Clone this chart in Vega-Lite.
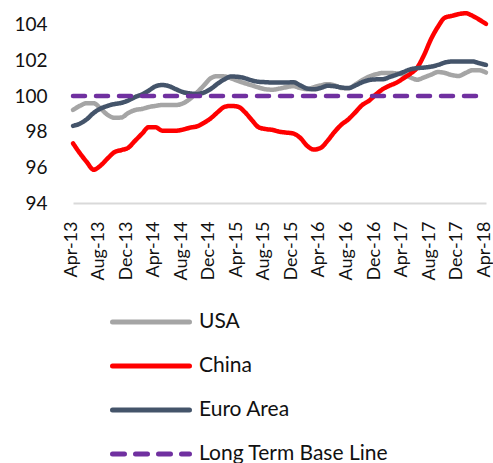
{
  "$schema": "https://vega.github.io/schema/vega-lite/v6.json",
  "width": 413,
  "height": 196,
  "autosize": "none",
  "padding": {"left": 73, "top": 7, "right": 7, "bottom": 260},
  "background": "white",
  "config": {
    "view": {"stroke": null},
    "font": "Lato",
    "axis": {"labelFont": "Lato", "labelColor": "#111111", "grid": false, "ticks": false, "tickSize": 0}
  },
  "data": {
    "values": [
      {"d": "2013-04-01T00:00:00", "USA": 99.22, "China": 97.35, "Euro Area": 98.33, "Long Term Base Line": 100},
      {"d": "2013-05-01T00:00:00", "USA": 99.45, "China": 96.8, "Euro Area": 98.45, "Long Term Base Line": 100},
      {"d": "2013-06-01T00:00:00", "USA": 99.6, "China": 96.3, "Euro Area": 98.7, "Long Term Base Line": 100},
      {"d": "2013-07-01T00:00:00", "USA": 99.6, "China": 95.87, "Euro Area": 99.05, "Long Term Base Line": 100},
      {"d": "2013-08-01T00:00:00", "USA": 99.3, "China": 96.1, "Euro Area": 99.3, "Long Term Base Line": 100},
      {"d": "2013-09-01T00:00:00", "USA": 98.95, "China": 96.5, "Euro Area": 99.45, "Long Term Base Line": 100},
      {"d": "2013-10-01T00:00:00", "USA": 98.78, "China": 96.85, "Euro Area": 99.55, "Long Term Base Line": 100},
      {"d": "2013-11-01T00:00:00", "USA": 98.8, "China": 96.97, "Euro Area": 99.62, "Long Term Base Line": 100},
      {"d": "2013-12-01T00:00:00", "USA": 99.05, "China": 97.1, "Euro Area": 99.75, "Long Term Base Line": 100},
      {"d": "2014-01-01T00:00:00", "USA": 99.22, "China": 97.5, "Euro Area": 99.95, "Long Term Base Line": 100},
      {"d": "2014-02-01T00:00:00", "USA": 99.28, "China": 97.9, "Euro Area": 100.1, "Long Term Base Line": 100},
      {"d": "2014-03-01T00:00:00", "USA": 99.38, "China": 98.25, "Euro Area": 100.3, "Long Term Base Line": 100},
      {"d": "2014-04-01T00:00:00", "USA": 99.45, "China": 98.25, "Euro Area": 100.55, "Long Term Base Line": 100},
      {"d": "2014-05-01T00:00:00", "USA": 99.5, "China": 98.06, "Euro Area": 100.62, "Long Term Base Line": 100},
      {"d": "2014-06-01T00:00:00", "USA": 99.5, "China": 98.06, "Euro Area": 100.55, "Long Term Base Line": 100},
      {"d": "2014-07-01T00:00:00", "USA": 99.5, "China": 98.06, "Euro Area": 100.38, "Long Term Base Line": 100},
      {"d": "2014-08-01T00:00:00", "USA": 99.6, "China": 98.12, "Euro Area": 100.22, "Long Term Base Line": 100},
      {"d": "2014-09-01T00:00:00", "USA": 99.85, "China": 98.23, "Euro Area": 100.15, "Long Term Base Line": 100},
      {"d": "2014-10-01T00:00:00", "USA": 100.2, "China": 98.3, "Euro Area": 100.12, "Long Term Base Line": 100},
      {"d": "2014-11-01T00:00:00", "USA": 100.6, "China": 98.5, "Euro Area": 100.2, "Long Term Base Line": 100},
      {"d": "2014-12-01T00:00:00", "USA": 101.0, "China": 98.75, "Euro Area": 100.4, "Long Term Base Line": 100},
      {"d": "2015-01-01T00:00:00", "USA": 101.12, "China": 99.1, "Euro Area": 100.7, "Long Term Base Line": 100},
      {"d": "2015-02-01T00:00:00", "USA": 101.1, "China": 99.4, "Euro Area": 100.95, "Long Term Base Line": 100},
      {"d": "2015-03-01T00:00:00", "USA": 101.0, "China": 99.45, "Euro Area": 101.1, "Long Term Base Line": 100},
      {"d": "2015-04-01T00:00:00", "USA": 100.85, "China": 99.4, "Euro Area": 101.08, "Long Term Base Line": 100},
      {"d": "2015-05-01T00:00:00", "USA": 100.72, "China": 99.1, "Euro Area": 101.0, "Long Term Base Line": 100},
      {"d": "2015-06-01T00:00:00", "USA": 100.6, "China": 98.65, "Euro Area": 100.88, "Long Term Base Line": 100},
      {"d": "2015-07-01T00:00:00", "USA": 100.48, "China": 98.25, "Euro Area": 100.8, "Long Term Base Line": 100},
      {"d": "2015-08-01T00:00:00", "USA": 100.38, "China": 98.15, "Euro Area": 100.78, "Long Term Base Line": 100},
      {"d": "2015-09-01T00:00:00", "USA": 100.36, "China": 98.1, "Euro Area": 100.76, "Long Term Base Line": 100},
      {"d": "2015-10-01T00:00:00", "USA": 100.42, "China": 98.0, "Euro Area": 100.76, "Long Term Base Line": 100},
      {"d": "2015-11-01T00:00:00", "USA": 100.5, "China": 97.95, "Euro Area": 100.76, "Long Term Base Line": 100},
      {"d": "2015-12-01T00:00:00", "USA": 100.56, "China": 97.9, "Euro Area": 100.78, "Long Term Base Line": 100},
      {"d": "2016-01-01T00:00:00", "USA": 100.45, "China": 97.65, "Euro Area": 100.6, "Long Term Base Line": 100},
      {"d": "2016-02-01T00:00:00", "USA": 100.39, "China": 97.2, "Euro Area": 100.42, "Long Term Base Line": 100},
      {"d": "2016-03-01T00:00:00", "USA": 100.5, "China": 97.0, "Euro Area": 100.38, "Long Term Base Line": 100},
      {"d": "2016-04-01T00:00:00", "USA": 100.6, "China": 97.1, "Euro Area": 100.46, "Long Term Base Line": 100},
      {"d": "2016-05-01T00:00:00", "USA": 100.67, "China": 97.5, "Euro Area": 100.58, "Long Term Base Line": 100},
      {"d": "2016-06-01T00:00:00", "USA": 100.6, "China": 98.0, "Euro Area": 100.55, "Long Term Base Line": 100},
      {"d": "2016-07-01T00:00:00", "USA": 100.46, "China": 98.4, "Euro Area": 100.48, "Long Term Base Line": 100},
      {"d": "2016-08-01T00:00:00", "USA": 100.44, "China": 98.7, "Euro Area": 100.45, "Long Term Base Line": 100},
      {"d": "2016-09-01T00:00:00", "USA": 100.65, "China": 99.1, "Euro Area": 100.6, "Long Term Base Line": 100},
      {"d": "2016-10-01T00:00:00", "USA": 100.9, "China": 99.5, "Euro Area": 100.78, "Long Term Base Line": 100},
      {"d": "2016-11-01T00:00:00", "USA": 101.1, "China": 99.75, "Euro Area": 100.9, "Long Term Base Line": 100},
      {"d": "2016-12-01T00:00:00", "USA": 101.22, "China": 100.1, "Euro Area": 100.94, "Long Term Base Line": 100},
      {"d": "2017-01-01T00:00:00", "USA": 101.3, "China": 100.4, "Euro Area": 100.95, "Long Term Base Line": 100},
      {"d": "2017-02-01T00:00:00", "USA": 101.3, "China": 100.6, "Euro Area": 101.08, "Long Term Base Line": 100},
      {"d": "2017-03-01T00:00:00", "USA": 101.27, "China": 100.75, "Euro Area": 101.2, "Long Term Base Line": 100},
      {"d": "2017-04-01T00:00:00", "USA": 101.2, "China": 101.0, "Euro Area": 101.35, "Long Term Base Line": 100},
      {"d": "2017-05-01T00:00:00", "USA": 101.05, "China": 101.25, "Euro Area": 101.5, "Long Term Base Line": 100},
      {"d": "2017-06-01T00:00:00", "USA": 100.92, "China": 101.6, "Euro Area": 101.57, "Long Term Base Line": 100},
      {"d": "2017-07-01T00:00:00", "USA": 101.05, "China": 102.3, "Euro Area": 101.6, "Long Term Base Line": 100},
      {"d": "2017-08-01T00:00:00", "USA": 101.2, "China": 103.2, "Euro Area": 101.65, "Long Term Base Line": 100},
      {"d": "2017-09-01T00:00:00", "USA": 101.35, "China": 103.9, "Euro Area": 101.75, "Long Term Base Line": 100},
      {"d": "2017-10-01T00:00:00", "USA": 101.3, "China": 104.4, "Euro Area": 101.88, "Long Term Base Line": 100},
      {"d": "2017-11-01T00:00:00", "USA": 101.18, "China": 104.5, "Euro Area": 101.94, "Long Term Base Line": 100},
      {"d": "2017-12-01T00:00:00", "USA": 101.13, "China": 104.6, "Euro Area": 101.94, "Long Term Base Line": 100},
      {"d": "2018-01-01T00:00:00", "USA": 101.3, "China": 104.65, "Euro Area": 101.94, "Long Term Base Line": 100},
      {"d": "2018-02-01T00:00:00", "USA": 101.45, "China": 104.5, "Euro Area": 101.94, "Long Term Base Line": 100},
      {"d": "2018-03-01T00:00:00", "USA": 101.45, "China": 104.3, "Euro Area": 101.85, "Long Term Base Line": 100},
      {"d": "2018-04-01T00:00:00", "USA": 101.32, "China": 104.05, "Euro Area": 101.75, "Long Term Base Line": 100}
    ]
  },
  "transform": [
    {"fold": ["USA", "China", "Euro Area", "Long Term Base Line"], "as": ["series", "value"]}
  ],
  "mark": {"type": "line", "strokeWidth": 4.5, "interpolate": "monotone", "strokeCap": "round", "strokeJoin": "round"},
  "encoding": {
    "x": {
      "field": "d",
      "type": "temporal",
      "scale": {"nice": false},
      "axis": {
        "title": null,
        "format": "%b-%y",
        "values": [
          {"year": 2013, "month": 4, "date": 1}, {"year": 2013, "month": 8, "date": 1}, {"year": 2013, "month": 12, "date": 1},
          {"year": 2014, "month": 4, "date": 1}, {"year": 2014, "month": 8, "date": 1}, {"year": 2014, "month": 12, "date": 1},
          {"year": 2015, "month": 4, "date": 1}, {"year": 2015, "month": 8, "date": 1}, {"year": 2015, "month": 12, "date": 1},
          {"year": 2016, "month": 4, "date": 1}, {"year": 2016, "month": 8, "date": 1}, {"year": 2016, "month": 12, "date": 1},
          {"year": 2017, "month": 4, "date": 1}, {"year": 2017, "month": 8, "date": 1}, {"year": 2017, "month": 12, "date": 1},
          {"year": 2018, "month": 4, "date": 1}
        ],
        "labelAngle": -90,
        "labelAlign": "right",
        "labelBaseline": "middle",
        "labelFontSize": 18,
        "labelPadding": 18,
        "labelOffset": -2,
        "labelOverlap": false,
        "labelFlush": false,
        "domainColor": "#D9D9D9",
        "domainWidth": 2
      }
    },
    "y": {
      "field": "value",
      "type": "quantitative",
      "scale": {"domain": [94, 105], "nice": false, "zero": false},
      "axis": {
        "title": null,
        "values": [94, 96, 98, 100, 102, 104],
        "domain": false,
        "labelFontSize": 19,
        "labelPadding": 26
      }
    },
    "color": {
      "field": "series",
      "type": "nominal",
      "scale": {
        "domain": ["USA", "China", "Euro Area", "Long Term Base Line"],
        "range": ["#A5A5A5", "#FF0000", "#44546A", "#7030A0"]
      },
      "legend": {
        "title": null,
        "orient": "none",
        "legendX": 37,
        "legendY": 305,
        "direction": "vertical",
        "padding": 0,
        "symbolType": "stroke",
        "symbolSize": 5929,
        "symbolStrokeWidth": 5,
        "clipHeight": 20,
        "rowPadding": 23,
        "labelOffset": 7,
        "labelFontSize": 21,
        "labelFont": "Lato",
        "labelLimit": 400,
        "labelColor": "#111111",
        "encode": {"symbols": {"update": {"strokeCap": {"value": "round"}}}}
      }
    },
    "strokeDash": {
      "field": "series",
      "type": "nominal",
      "scale": {
        "domain": ["USA", "China", "Euro Area", "Long Term Base Line"],
        "range": [[1, 0], [1, 0], [1, 0], [12, 11]]
      },
      "legend": null
    }
  }
}
